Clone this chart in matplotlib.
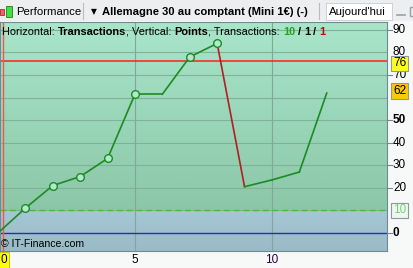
import matplotlib
matplotlib.use('Agg')
import matplotlib.pyplot as plt
import numpy as np
from matplotlib.patches import Rectangle

plt.rcParams['font.family'] = ['Liberation Sans', 'DejaVu Sans']

# data
trades = list(range(13))
points = [0, 11, 21, 25, 33, 61.5, 61.5, 78, 84, 20.5, 23.5, 27, 62]
new_high = [False, True, True, True, True, True, False, True, True, False, False, False, False]
y_ticks = [20, 30, 40, 50, 70, 90]
x_ticks = [5, 10]
red_level = 76
last_level = 62
min_level = 10
n_win, n_flat, n_loss = 10, 1, 1

W, H = 414, 268
fig = plt.figure(figsize=(W / 100, H / 100), dpi=100)
fig.patch.set_facecolor('#f7f8f8')

def px(x0, y0, w, h):
    return [x0 / W, 1 - (y0 + h) / H, w / W, h / H]

ax = fig.add_axes(px(0, 22, 387, 229))
ymin, ymax = -8.0, 93.5
xmin, xmax = 0.073, 14.2
ax.set_xlim(xmin, xmax)
ax.set_ylim(ymin, ymax)

# background gradients
top = np.linspace(0, 1, 64).reshape(-1, 1)
c1, c2 = np.array([0.66, 0.90, 0.79]), np.array([0.55, 0.78, 0.66])
grad = c1 + (c2 - c1) * top[..., None]
ax.imshow(grad, extent=[xmin, xmax, min_level, ymax], aspect='auto', zorder=0)
c3, c4 = np.array([0.65, 0.78, 0.83]), np.array([0.60, 0.73, 0.78])
grad2 = c3 + (c4 - c3) * top[..., None]
ax.imshow(grad2, extent=[xmin, xmax, ymin, min_level], aspect='auto', zorder=0)

for v in range(10, 100, 10):
    ax.axhline(v, color='#7fb296', lw=0.8, zorder=1)
for v in x_ticks:
    ax.axvline(v, color='#7fa89a', lw=0.8, zorder=1)

ax.axhline(0, color='#2030c0', lw=1.0, zorder=2)
ax.axhline(min_level, color='#40c040', lw=1.0, ls=(0, (4, 3)), zorder=2)
ax.axhline(red_level, color='#ff2020', lw=1.1, zorder=2)
ax.axvline(0.19, color='#ff5050', lw=1.0, zorder=2)

for i in range(len(trades) - 1):
    col = '#1c8c22' if points[i + 1] >= points[i] else '#b02020'
    ax.plot(trades[i:i + 2], points[i:i + 2], color=col, lw=1.2, zorder=3)
hx = [t for t, h in zip(trades, new_high) if h]
hy = [p for p, h in zip(points, new_high) if h]
ax.plot(hx, hy, 'o', ms=5.5, mfc='#b4e8cc', mec='#1c8c22', mew=1.0, zorder=4)

for s in ax.spines.values():
    s.set_color('#6f8a90')
ax.set_xticks([])
ax.set_yticks([])

# right axis labels
def ypx(v):
    return 22 + (ymax - v) / (ymax - ymin) * 229

def xpx(v):
    return (v - xmin) / (xmax - xmin) * 387

for v in y_ticks + [0]:
    y = ypx(v)
    fig.add_artist(plt.Line2D([387 / W, 392 / W], [1 - y / H] * 2, color='#6f8a90', lw=0.8))
    fig.text(393 / W, 1 - y / H, str(v), fontsize=8.5, va='center', ha='left',
             fontweight='bold' if v in (0, 50) else 'normal')
fig.text(393 / W, 1 - ypx(80) / H, '80', fontsize=8.5, va='center', ha='left')

def boxlabel(yp, text, fc, tc):
    fig.text(393 / W, 1 - yp / H, text, fontsize=8.5, va='center', ha='left', color=tc,
             bbox=dict(boxstyle='square,pad=0.15', fc=fc, ec='#8a9aa0', lw=0.8))

boxlabel(ypx(red_level) + 2, str(red_level), '#ffff20', 'black')
boxlabel(ypx(last_level) - 2, str(last_level), '#ffc800', 'black')
boxlabel(ypx(min_level), str(min_level), '#f2f6f2', '#70d870')

# bottom labels
for v in x_ticks:
    fig.text(xpx(v) / W, 1 - 260 / H, str(v), fontsize=8.5, ha='center', va='center',
             color='#300040' if v == 10 else 'black')
fig.text(0.5 / W, 1 - 260 / H, '0', fontsize=8.5, ha='left', va='center',
         bbox=dict(boxstyle='square,pad=0.15', fc='#ffff00', ec='#c0c000', lw=0.6))

fig.text(1 / W, 1 - 244 / H, '\u00a9 IT-Finance.com', fontsize=7.6, va='center', ha='left')

# header text inside the plot
fig.canvas.draw()
r = fig.canvas.get_renderer()
parts = [('Horizontal: ', 'normal', 'black'), ('Transactions', 'bold', 'black'),
         (', Vertical: ', 'normal', 'black'), ('Points', 'bold', 'black'),
         (', Transactions: ', 'normal', 'black'), (str(n_win), 'bold', '#28a028'),
         (' / ', 'bold', 'black'), (str(n_flat), 'bold', 'black'),
         (' / ', 'bold', 'black'), (str(n_loss), 'bold', '#b01010')]
x = 2
for txt, wgt, col in parts:
    t = fig.text(x / W, 1 - 35 / H, txt, fontsize=7.9, fontweight=wgt, color=col,
                 va='baseline', ha='left')
    bb = t.get_window_extent(r)
    x += bb.width

# toolbar
fig.add_artist(Rectangle((0, 1 - 21 / H), 1, 21 / H, transform=fig.transFigure,
                         fc='#eceeef', ec='none'))
fig.add_artist(Rectangle((0, 1 - 15 / H), 4 / W, 6 / H, transform=fig.transFigure,
                         fc='#f06060', ec='#a03030', lw=0.6))
fig.add_artist(Rectangle((6 / W, 1 - 17 / H), 6 / W, 11 / H, transform=fig.transFigure,
                         fc='#40e040', ec='#208020', lw=0.6))
fig.text(16 / W, 1 - 15 / H, 'Performance', fontsize=8.2, va='baseline', ha='left')
fig.add_artist(plt.Line2D([83 / W] * 2, [1 - 3 / H, 1 - 19 / H], color='#b8bcc0', lw=0.8))
fig.text(91 / W, 1 - 12 / H, '\u25bc', fontsize=5.5, va='center', ha='left', family='DejaVu Sans')
fig.text(102 / W, 1 - 15 / H, 'Allemagne 30 au comptant (Mini 1\u20ac) (-)', fontsize=8.1,
         fontweight='bold', va='baseline', ha='left')
fig.add_artist(plt.Line2D([319 / W] * 2, [1 - 3 / H, 1 - 19 / H], color='#b8bcc0', lw=0.8))
fig.add_artist(Rectangle((326 / W, 1 - 20 / H), 66 / W, 17 / H, transform=fig.transFigure,
                         fc='white', ec='#c8ccd0', lw=0.6))
fig.text(329 / W, 1 - 15 / H, "Aujourd'hui", fontsize=8.2, va='baseline', ha='left')
fig.add_artist(plt.Line2D([397 / W, 405 / W], [1 - 15 / H] * 2, color='#9aa0a6', lw=1.2))
fig.add_artist(Rectangle((410 / W, 1 - 16 / H), 8 / W, 9 / H, transform=fig.transFigure,
                         fc='none', ec='#9aa0a6', lw=1.0))

fig.savefig('out.png', dpi=100)
